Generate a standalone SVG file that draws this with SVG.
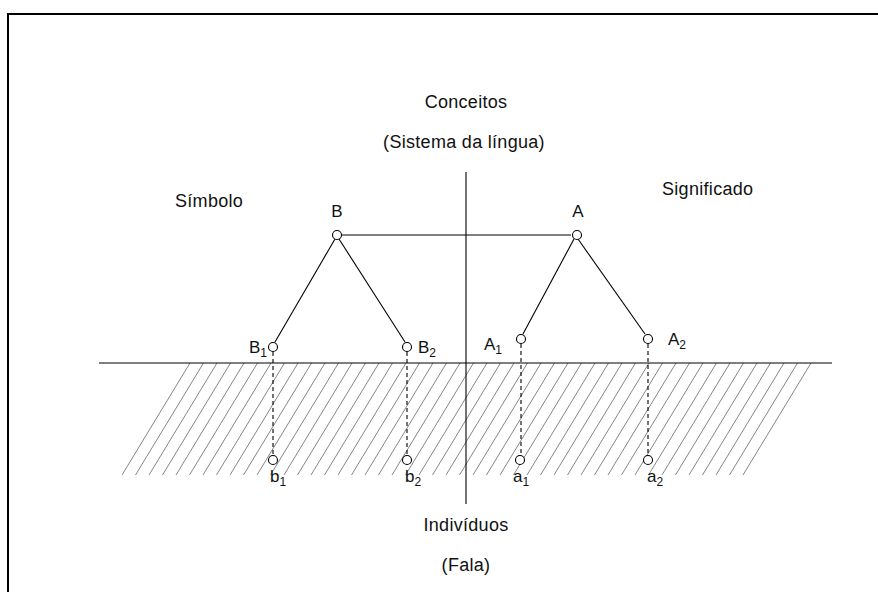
<svg xmlns="http://www.w3.org/2000/svg" width="878" height="592" viewBox="0 0 878 592">
<style>
text{font-family:"Liberation Sans",Arial,sans-serif;font-size:17px;fill:#111}
.lbl{text-anchor:middle}
.ttl{font-size:18px;letter-spacing:0.3px}
.ln{stroke:#000;stroke-width:1.1;fill:none}
.dash{stroke:#000;stroke-width:1.1;stroke-dasharray:4 3;fill:none}
.hatch line{stroke:#777;stroke-width:0.9}
.node circle{fill:#fff;stroke:#000;stroke-width:1.1}
</style>
<rect width="878" height="592" fill="#fff"/>
<path d="M8,600 V14 H880" fill="none" stroke="#000" stroke-width="2"/>
<g class="hatch" id="hatch">
<line x1="190" y1="363" x2="122" y2="475"/><line x1="203.5" y1="363" x2="135.5" y2="475"/><line x1="217" y1="363" x2="149" y2="475"/><line x1="230.5" y1="363" x2="162.5" y2="475"/><line x1="244" y1="363" x2="176" y2="475"/><line x1="257.5" y1="363" x2="189.5" y2="475"/><line x1="271" y1="363" x2="203" y2="475"/><line x1="284.5" y1="363" x2="216.5" y2="475"/><line x1="298" y1="363" x2="230" y2="475"/><line x1="311.5" y1="363" x2="243.5" y2="475"/><line x1="325" y1="363" x2="257" y2="475"/><line x1="338.5" y1="363" x2="270.5" y2="475"/><line x1="352" y1="363" x2="284" y2="475"/><line x1="365.5" y1="363" x2="297.5" y2="475"/><line x1="379" y1="363" x2="311" y2="475"/><line x1="392.5" y1="363" x2="324.5" y2="475"/><line x1="406" y1="363" x2="338" y2="475"/><line x1="419.5" y1="363" x2="351.5" y2="475"/><line x1="433" y1="363" x2="365" y2="475"/><line x1="446.5" y1="363" x2="378.5" y2="475"/><line x1="460" y1="363" x2="392" y2="475"/><line x1="473.5" y1="363" x2="405.5" y2="475"/><line x1="487" y1="363" x2="419" y2="475"/><line x1="500.5" y1="363" x2="432.5" y2="475"/><line x1="514" y1="363" x2="446" y2="475"/><line x1="527.5" y1="363" x2="459.5" y2="475"/><line x1="541" y1="363" x2="473" y2="475"/><line x1="554.5" y1="363" x2="486.5" y2="475"/><line x1="568" y1="363" x2="500" y2="475"/><line x1="581.5" y1="363" x2="513.5" y2="475"/><line x1="595" y1="363" x2="527" y2="475"/><line x1="608.5" y1="363" x2="540.5" y2="475"/><line x1="622" y1="363" x2="554" y2="475"/><line x1="635.5" y1="363" x2="567.5" y2="475"/><line x1="649" y1="363" x2="581" y2="475"/><line x1="662.5" y1="363" x2="594.5" y2="475"/><line x1="676" y1="363" x2="608" y2="475"/><line x1="689.5" y1="363" x2="621.5" y2="475"/><line x1="703" y1="363" x2="635" y2="475"/><line x1="716.5" y1="363" x2="648.5" y2="475"/><line x1="730" y1="363" x2="662" y2="475"/><line x1="743.5" y1="363" x2="675.5" y2="475"/><line x1="757" y1="363" x2="689" y2="475"/><line x1="770.5" y1="363" x2="702.5" y2="475"/><line x1="784" y1="363" x2="716" y2="475"/><line x1="797.5" y1="363" x2="729.5" y2="475"/><line x1="811" y1="363" x2="743" y2="475"/>
</g>
<g id="axes">
<line class="ln" x1="99" y1="363" x2="832" y2="363"/>
<line class="ln" x1="466" y1="172" x2="466" y2="504"/>
</g>
<g id="connectors">
<line class="ln" x1="342" y1="235" x2="571" y2="235"/>
<line class="ln" x1="335" y1="239" x2="275" y2="342"/>
<line class="ln" x1="339" y1="239" x2="405" y2="342"/>
<line class="ln" x1="574" y1="239" x2="523" y2="334"/>
<line class="ln" x1="578" y1="239" x2="645" y2="334"/>
<line class="dash" x1="273" y1="352" x2="273" y2="455"/>
<line class="dash" x1="407" y1="352" x2="407" y2="455"/>
<line class="dash" x1="521" y1="344" x2="521" y2="455"/>
<line class="dash" x1="648" y1="344" x2="648" y2="455"/>
</g>
<g id="node-B" class="node"><circle cx="337" cy="235" r="4.5"/><text class="lbl" x="337" y="217">B</text></g>
<g id="node-A" class="node"><circle cx="577" cy="235" r="4.5"/><text class="lbl" x="578" y="217">A</text></g>
<g id="node-B1" class="node"><circle cx="273" cy="347" r="4.5"/><text x="249" y="353">B<tspan font-size="12" dy="4">1</tspan></text></g>
<g id="node-B2" class="node"><circle cx="407" cy="347" r="4.5"/><text x="418" y="353">B<tspan font-size="12" dy="4">2</tspan></text></g>
<g id="node-A1" class="node"><circle cx="521" cy="339" r="4.5"/><text x="484" y="350">A<tspan font-size="12" dy="4">1</tspan></text></g>
<g id="node-A2" class="node"><circle cx="648" cy="339" r="4.5"/><text x="668" y="345">A<tspan font-size="12" dy="4">2</tspan></text></g>
<g id="node-b1" class="node"><circle cx="273" cy="460" r="4.5"/><text x="270" y="482">b<tspan font-size="12" dy="4">1</tspan></text></g>
<g id="node-b2" class="node"><circle cx="407" cy="460" r="4.5"/><text x="405" y="482">b<tspan font-size="12" dy="4">2</tspan></text></g>
<g id="node-a1" class="node"><circle cx="520" cy="460" r="4.5"/><text x="513" y="482">a<tspan font-size="12" dy="4">1</tspan></text></g>
<g id="node-a2" class="node"><circle cx="648" cy="460" r="4.5"/><text x="647" y="482">a<tspan font-size="12" dy="4">2</tspan></text></g>
<g id="titles">
<text class="lbl ttl" x="466" y="108">Conceitos</text>
<text class="lbl ttl" x="464" y="148">(Sistema da língua)</text>
<text class="ttl" x="175" y="207">Símbolo</text>
<text class="ttl" x="662" y="195">Significado</text>
<text class="lbl ttl" x="466" y="531">Indivíduos</text>
<text class="lbl ttl" x="466" y="571">(Fala)</text>
</g>
</svg>
